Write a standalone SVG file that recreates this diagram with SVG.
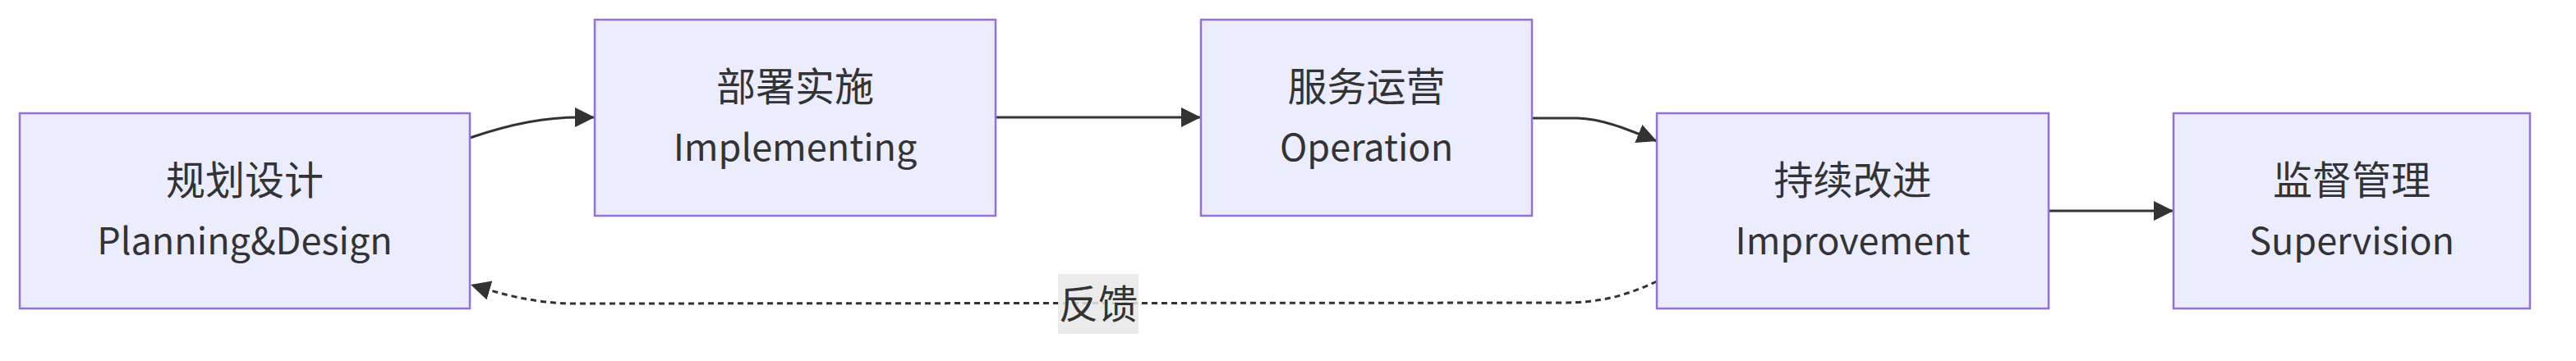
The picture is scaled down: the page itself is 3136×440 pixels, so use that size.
<svg xmlns="http://www.w3.org/2000/svg" width="3136" height="440" viewBox="0 0 3136 440">
<style>
.node rect{fill:#ECECFF;stroke:#9370DB;stroke-width:2.5}
.node text,.lbl text{font-family:"Noto Sans CJK SC","Noto Sans",sans-serif;font-size:48px;fill:#333333;text-anchor:middle}
.node text.en{font-size:45px}
.edge{fill:none;stroke:#333333;stroke-width:3}
.dash{stroke-dasharray:7 5}
</style>
<defs>
<marker id="arrow" viewBox="0 0 10 10" refX="10" refY="5" markerUnits="userSpaceOnUse" markerWidth="24" markerHeight="24" orient="auto">
<path d="M0,0 L10,5 L0,10 z" fill="#333333"/>
</marker>
</defs>
<rect width="3136" height="440" fill="#ffffff"/>
<g id="connectors">
<path class="edge" d="M572,168 C625,150 665,143 705,143 L724,143" marker-end="url(#arrow)"/>
<path class="edge" d="M1212,143 L1462,143" marker-end="url(#arrow)"/>
<path class="edge" d="M1866,144 L1920,144 C1950,145 1975,155 2017,172" marker-end="url(#arrow)"/>
<path class="edge" d="M2494,257 L2646,257" marker-end="url(#arrow)"/>
<path class="edge dash" d="M2017,343 C1980,360 1950,369 1900,369 L700,370 C650,370 610,358 573,347" marker-end="url(#arrow)"/>
<g class="lbl" id="label-feedback">
<rect x="1288" y="334" width="98" height="73" fill="#e8e8e8" fill-opacity="0.85"/>
<text x="1337" y="388">反馈</text>
</g>
</g>
<g class="node" id="node-planning">
<rect x="24" y="138" width="548" height="238"/>
<text x="298" y="237">规划设计</text>
<text class="en" x="298" y="310">Planning&amp;Design</text>
</g>
<g class="node" id="node-implementing">
<rect x="724" y="24" width="488" height="239"/>
<text x="968" y="123">部署实施</text>
<text class="en" x="968" y="196">Implementing</text>
</g>
<g class="node" id="node-operation">
<rect x="1462" y="24" width="403" height="239"/>
<text x="1663.5" y="123">服务运营</text>
<text class="en" x="1663.5" y="196">Operation</text>
</g>
<g class="node" id="node-improvement">
<rect x="2017" y="138" width="477" height="238"/>
<text x="2255.5" y="237">持续改进</text>
<text class="en" x="2255.5" y="310">Improvement</text>
</g>
<g class="node" id="node-supervision">
<rect x="2646" y="138" width="434" height="238"/>
<text x="2863" y="237">监督管理</text>
<text class="en" x="2863" y="310">Supervision</text>
</g>
</svg>
